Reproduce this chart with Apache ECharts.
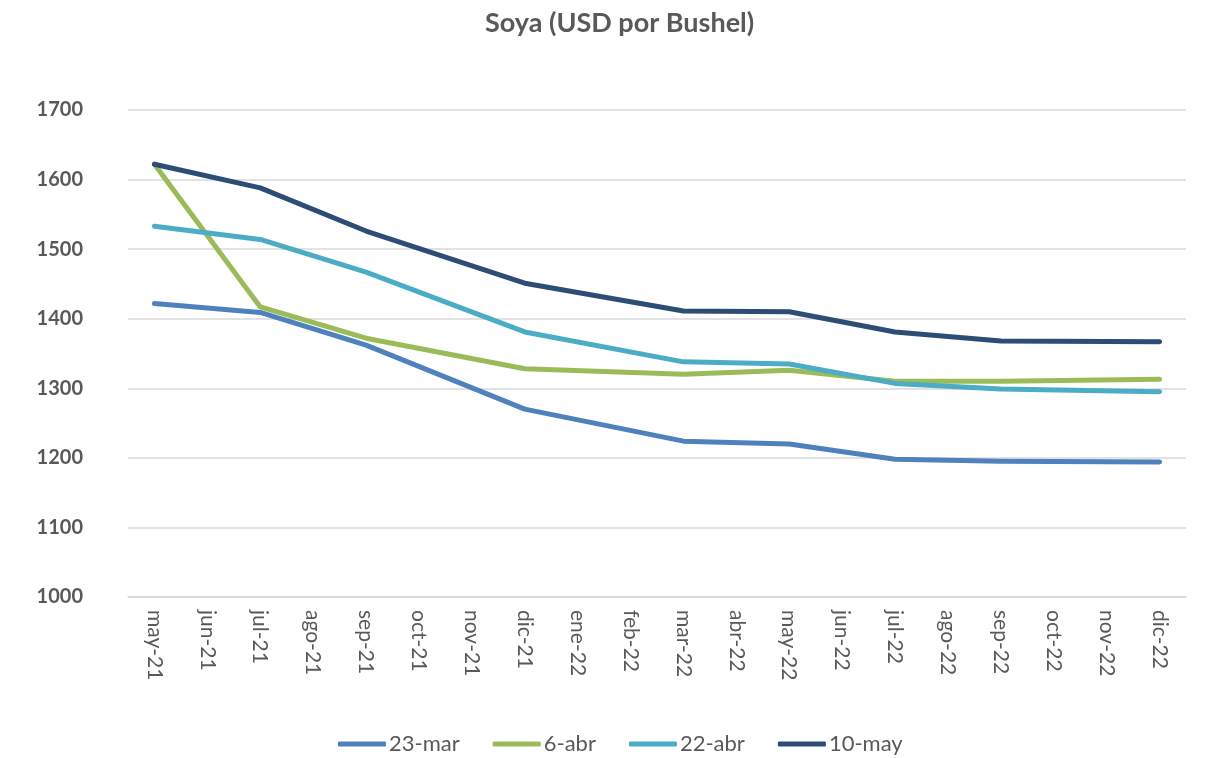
<!DOCTYPE html>
<html>
<head>
<meta charset="utf-8">
<script src="https://cdn.jsdelivr.net/npm/echarts@6/dist/echarts.min.js"></script>
<style>
  html, body { margin: 0; padding: 0; background: #fff; }
  #chart { width: 1210px; height: 758px; }
</style>
</head>
<body>
<div id="chart"></div>
<script>
// meses del eje x
const months = ['may-21', 'jun-21', 'jul-21', 'ago-21', 'sep-21', 'oct-21', 'nov-21', 'dic-21',
  'ene-22', 'feb-22', 'mar-22', 'abr-22', 'may-22', 'jun-22', 'jul-22', 'ago-22',
  'sep-22', 'oct-22', 'nov-22', 'dic-22']
// solo hay precios en algunos meses, el resto queda vacío
const mar23 = [1422, null, 1409, null, 1362, null, null, 1270, null, null, 1224, null, 1220, null, 1198, null, 1195, null, null, 1194]
const abr6 = [1622, null, 1417, null, 1372, null, null, 1328, null, null, 1320, null, 1326, null, 1310, null, 1310, null, null, 1313]
const abr22 = [1533, null, 1514, null, 1467, null, null, 1381, null, null, 1338, null, 1335, null, 1307, null, 1299, null, null, 1295]
const may10 = [1622, null, 1588, null, 1526, null, null, 1451, null, null, 1411, null, 1410, null, 1381, null, 1368, null, null, 1367]

const font = 'Lato, "Open Sans", sans-serif'
const grey = '#595959'

function serie (name, data, color) {
  return {
    name: name,
    type: 'line',
    data: data,
    connectNulls: true,
    showSymbol: false,
    symbol: 'none',
    lineStyle: { width: 5, color: color, cap: 'round', join: 'round' },
    itemStyle: { color: color }
  }
}

const chart = echarts.init(document.getElementById('chart'))
chart.setOption({
  animation: false,
  title: {
    text: 'Soya (USD por Bushel)',
    left: 480,
    top: 5,
    textStyle: { fontFamily: font, fontSize: 27, fontWeight: 'bold', color: grey }
  },
  legend: {
    top: 728,
    left: 333,
    itemWidth: 48,
    itemHeight: 5,
    itemGap: 33,
    icon: 'roundRect',
    textStyle: { fontFamily: font, fontSize: 22, color: grey, padding: [0, 0, 0, -2] },
    data: ['23-mar', '6-abr', '22-abr', '10-may']
  },
  grid: { left: 128, right: 24, top: 110, bottom: 161 },
  xAxis: {
    type: 'category',
    data: months,
    boundaryGap: true,
    axisLine: { lineStyle: { color: '#d9d9d9', width: 1.5 } },
    axisTick: { show: false },
    axisLabel: {
      rotate: -90,
      interval: 0,
      margin: 13,
      fontFamily: font,
      fontSize: 21,
      color: grey
    }
  },
  yAxis: {
    type: 'value',
    min: 1000,
    max: 1700,
    interval: 100,
    axisLine: { show: false },
    axisTick: { show: false },
    splitLine: { lineStyle: { color: '#d9d9d9', width: 1.5 } },
    axisLabel: {
      margin: 45,
      formatter: (v) => String(v),
      fontFamily: font,
      fontSize: 20,
      fontWeight: 'bold',
      color: grey
    }
  },
  series: [
    serie('23-mar', mar23, '#4f81bd'),
    serie('6-abr', abr6, '#9bbb59'),
    serie('22-abr', abr22, '#4bacc6'),
    serie('10-may', may10, '#2c4d75')
  ]
})
</script>
</body>
</html>
